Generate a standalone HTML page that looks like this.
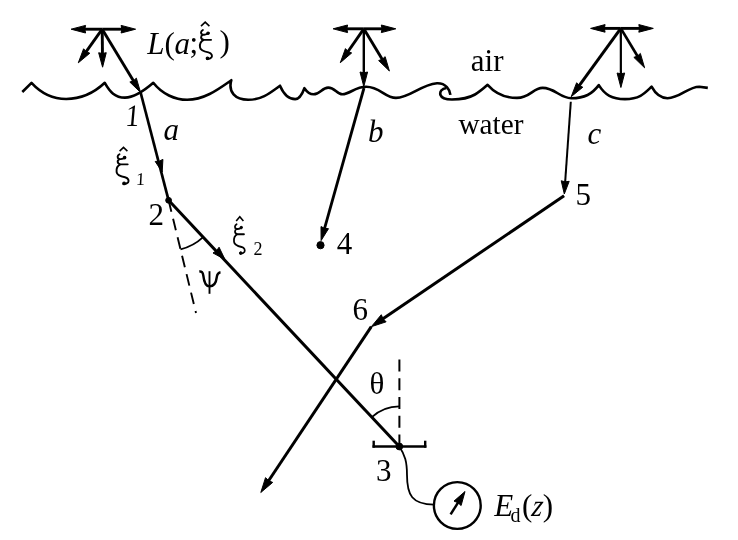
<!DOCTYPE html>
<html><head><meta charset="utf-8"><style>
html,body{margin:0;padding:0;background:#fff;}
body{width:738px;height:540px;position:relative;overflow:hidden;}
svg{position:absolute;left:0;top:0;will-change:transform;}
svg *{stroke:#000;fill:#000;}
svg [fill=none]{fill:none;}
svg path{stroke-linejoin:round;}
svg text{font-family:"Liberation Serif",serif;stroke:none;}
</style></head><body>
<svg width="738" height="540" viewBox="0 0 738 540">
<line x1="102.20" y1="29.20" x2="83.80" y2="29.20" stroke-width="2.9" />
<polygon points="71.10,29.20 85.60,25.40 84.80,29.20 85.60,33.00"/>
<line x1="102.20" y1="29.20" x2="122.90" y2="29.20" stroke-width="2.9" />
<polygon points="135.60,29.20 121.10,33.00 121.90,29.20 121.10,25.40"/>
<line x1="102.20" y1="29.20" x2="102.47" y2="54.50" stroke-width="2.9" />
<polygon points="102.60,67.20 98.65,52.74 102.46,53.50 106.25,52.66"/>
<line x1="102.20" y1="29.20" x2="85.66" y2="52.45" stroke-width="2.9" />
<polygon points="78.30,62.80 83.61,48.78 86.24,51.64 89.80,53.19"/>
<line x1="102.20" y1="29.20" x2="134.01" y2="81.64" stroke-width="2.9" />
<polygon points="140.60,92.50 129.83,82.07 133.49,80.79 136.33,78.13"/>
<line x1="140.60" y1="92.50" x2="168.60" y2="200.30" stroke-width="2.7" />
<polygon points="162.20,172.00 155.19,161.47 159.26,161.19 162.91,159.37"/>
<line x1="168.60" y1="200.30" x2="399.30" y2="446.50" stroke-width="3.0" />
<polygon points="225.00,259.50 212.99,252.98 216.58,250.67 219.07,247.19"/>
<line x1="168.6" y1="200.3" x2="196" y2="313" stroke-width="1.9" stroke-dasharray="11.8,7.2"/>
<circle cx="168.6" cy="200.3" r="2.9"/>
<path d="M180.53,249.37 A50.5,50.5 0 0,0 203.13,237.15" fill="none" stroke-width="1.8"/>
<line x1="363.80" y1="28.80" x2="345.80" y2="28.80" stroke-width="2.9" />
<polygon points="333.10,28.80 347.60,25.00 346.80,28.80 347.60,32.60"/>
<line x1="363.80" y1="28.80" x2="383.10" y2="28.80" stroke-width="2.9" />
<polygon points="395.80,28.80 381.30,32.60 382.10,28.80 381.30,25.00"/>
<line x1="363.80" y1="28.80" x2="347.54" y2="52.26" stroke-width="2.9" />
<polygon points="340.30,62.70 345.44,48.62 348.11,51.44 351.68,52.95"/>
<line x1="363.80" y1="28.80" x2="382.81" y2="60.14" stroke-width="2.9" />
<polygon points="389.40,71.00 378.63,60.57 382.29,59.29 385.13,56.63"/>
<line x1="363.80" y1="28.80" x2="363.80" y2="73.80" stroke-width="2.4" />
<polygon points="363.80,86.50 360.00,72.00 363.80,72.80 367.60,72.00"/>
<line x1="364.00" y1="88.00" x2="324.27" y2="229.34" stroke-width="2.8" />
<polygon points="321.10,240.60 321.00,226.55 324.54,228.37 328.51,228.66"/>
<circle cx="320.5" cy="245.2" r="3.6"/>
<line x1="620.80" y1="28.40" x2="603.30" y2="28.40" stroke-width="2.9" />
<polygon points="590.60,28.40 605.10,24.60 604.30,28.40 605.10,32.20"/>
<line x1="620.80" y1="28.40" x2="640.60" y2="28.40" stroke-width="2.9" />
<polygon points="653.30,28.40 638.80,32.20 639.60,28.40 638.80,24.60"/>
<line x1="620.80" y1="28.40" x2="620.88" y2="74.80" stroke-width="2.2" />
<polygon points="620.90,87.50 617.08,73.01 620.88,73.80 624.68,72.99"/>
<line x1="620.80" y1="28.40" x2="638.03" y2="56.93" stroke-width="2.7" />
<polygon points="644.60,67.80 633.85,57.35 637.52,56.07 640.36,53.42"/>
<line x1="620.80" y1="28.40" x2="578.66" y2="86.42" stroke-width="3.0" />
<polygon points="571.20,96.70 576.65,82.73 579.25,85.61 582.80,87.20"/>
<line x1="570.80" y1="101.70" x2="565.09" y2="182.83" stroke-width="2.0" />
<polygon points="564.30,194.00 561.22,180.75 565.16,181.83 569.20,181.31"/>
<line x1="564.10" y1="195.70" x2="382.22" y2="319.28" stroke-width="3.0" />
<polygon points="371.30,326.70 381.29,314.71 383.05,318.72 386.12,321.83"/>
<line x1="371.30" y1="326.70" x2="268.12" y2="481.52" stroke-width="3.0" />
<polygon points="260.80,492.50 265.54,477.63 268.68,480.68 272.70,482.40"/>
<line x1="372.50" y1="446.50" x2="426.40" y2="446.50" stroke-width="2.4" />
<line x1="373.70" y1="440.70" x2="373.70" y2="447.70" stroke-width="2.4" />
<line x1="425.20" y1="440.70" x2="425.20" y2="447.70" stroke-width="2.4" />
<line x1="399.4" y1="446.5" x2="399.4" y2="359.3" stroke-width="2" stroke-dasharray="12,6.75"/>
<circle cx="399.3" cy="446.5" r="3.4"/>
<path d="M371.81,417.17 A40.2,40.2 0 0,1 399.30,406.30" fill="none" stroke-width="1.8"/>
<path d="M399.3,446.5 C405,455 407,462 407,475 C407,495 412,504.6 434,504.6" fill="none" stroke-width="1.8"/>
<circle cx="457.3" cy="505.5" r="23.4" fill="none" stroke-width="2.4"/>
<line x1="450.60" y1="514.40" x2="458.51" y2="501.83" stroke-width="2.5" />
<polygon points="465.00,491.50 461.10,505.59 457.97,502.67 453.99,501.12"/>
<path d="M22.3,92 L31.5,82.8 C40,92 50,99 66.2,99 C82,99 95,92 104.8,82.8 C110,92 115,97.6 125,97.6 C134,97.6 145,90 153.3,82.8 C162,94 175,99.8 187.2,99.8 C205,99.8 220,88 231.3,80.2 C228,92 235,99.8 248.2,99.8 C262,99.8 270,93 280,85.7 C284,95 289,99.1 295.2,99.1 C300,99.1 303,92 304.4,88.2 C307,92 310,94.3 313.5,94.3 C320,94.3 322,87.6 328.2,87.6 C335,87.6 337,94.3 342.3,94.3 C350,94.3 355,86.7 366.1,86.7 C380,86.7 385,97.9 396,97.9 C410,97.9 420,85 437,83.3 C446,83 450,90 450.4,94.9 " fill="none" stroke-width="2.6"/>
<path d="M446.5,88 C441.5,88.5 439.5,92 440.5,95 C441.5,98 445,99.5 452,99.5 C460,99.5 468,98.5 475,94.5 C480,91.5 484,88 487.6,84.8 C494,92 503,97.9 517,97.9 C530,97.9 533,87.9 542.6,87.9 C555,87.9 560,98.2 571.2,98.2 C585,98.2 592,94 598.8,85.1 C605,95 612,99.1 625,99.1 C640,99.1 645,93 651.6,86.7 C655,93 660,98.2 667.5,98.2 C680,98.2 688,86.7 699.2,86.7 L707.8,87.9" fill="none" stroke-width="2.6"/>
<g><text x="147.3" y="53.5" font-size="31" font-style="italic">L</text>
<text x="164.6" y="53.5" font-size="31">(</text>
<text x="174.6" y="53.6" font-size="31" font-style="italic">a</text>
<text x="189.6" y="53.0" font-size="31">;</text>
<text x="219.4" y="52.4" font-size="31">)</text>
<text transform="translate(124.8,125.8) skewX(-5) scale(0.9,1.0)" x="0" y="0" font-size="31">1</text>
<text x="163.6" y="140.2" font-size="31" font-style="italic">a</text>
<text transform="translate(135.7,185.0) skewX(-3) scale(1.0,1.0)" x="0" y="0" font-size="18">1</text>
<text x="148.4" y="225.0" font-size="31">2</text>
<text x="253.4" y="254.7" font-size="18">2</text>
<text x="368.0" y="141.5" font-size="31" font-style="italic">b</text>
<text x="336.8" y="253.6" font-size="31">4</text>
<text x="470.8" y="70.9" font-size="31">air</text>
<text transform="translate(458.4,133.6) skewX(0) scale(0.945,0.96)" x="0" y="0" font-size="31">water</text>
<text x="587.6" y="143.5" font-size="31" font-style="italic">c</text>
<text x="575.4" y="204.8" font-size="31">5</text>
<text x="352.5" y="319.6" font-size="31">6</text>
<text x="369.6" y="393.8" font-size="31">θ</text>
<text x="376.0" y="480.9" font-size="31">3</text>
<text x="494.2" y="516.3" font-size="31" font-style="italic">E</text>
<text x="510.5" y="522.3" font-size="20">d</text>
<text x="521.9" y="515.9" font-size="31">(</text>
<text transform="translate(531.1,516.4) skewX(-9) scale(0.88,1.0)" x="0" y="0" font-size="31" font-style="italic">z</text>
<text x="542.8" y="515.9" font-size="31">)</text>
<g transform="translate(199.2,28.8) scale(1.024,0.978)"><path d="M3.6,1.2 C1.6,2.4 0.9,4.9 3.2,5.8 C5.3,6.5 7.6,5.6 9.2,4.2 M3.8,6 C1.2,7 0.9,10.6 4.6,11.3 L11.6,11.3 M4.6,11.3 C1.6,12.6 0.4,16 0.8,19 C1.2,22.2 4.2,23.2 9,24.1 C12.4,24.9 13,27.6 12,29.2 C11.1,30.4 9.4,30.9 7.6,30.9" fill="none" stroke-width="1.9" stroke-linecap="round"/><circle cx="8.6" cy="4.6" r="1.25"/><circle cx="8.1" cy="30.2" r="1.35"/></g>
<g transform="translate(115.8,153) scale(1.024,1.006)"><path d="M3.6,1.2 C1.6,2.4 0.9,4.9 3.2,5.8 C5.3,6.5 7.6,5.6 9.2,4.2 M3.8,6 C1.2,7 0.9,10.6 4.6,11.3 L11.6,11.3 M4.6,11.3 C1.6,12.6 0.4,16 0.8,19 C1.2,22.2 4.2,23.2 9,24.1 C12.4,24.9 13,27.6 12,29.2 C11.1,30.4 9.4,30.9 7.6,30.9" fill="none" stroke-width="1.9" stroke-linecap="round"/><circle cx="8.6" cy="4.6" r="1.25"/><circle cx="8.1" cy="30.2" r="1.35"/></g>
<g transform="translate(233.3,223) scale(0.921,0.994)"><path d="M3.6,1.2 C1.6,2.4 0.9,4.9 3.2,5.8 C5.3,6.5 7.6,5.6 9.2,4.2 M3.8,6 C1.2,7 0.9,10.6 4.6,11.3 L11.6,11.3 M4.6,11.3 C1.6,12.6 0.4,16 0.8,19 C1.2,22.2 4.2,23.2 9,24.1 C12.4,24.9 13,27.6 12,29.2 C11.1,30.4 9.4,30.9 7.6,30.9" fill="none" stroke-width="1.9" stroke-linecap="round"/><circle cx="8.6" cy="4.6" r="1.25"/><circle cx="8.1" cy="30.2" r="1.35"/></g>
<path d="M199.3,271.5 C201.6,271.2 202.9,272.4 203.3,275.5 C203.9,281 205.2,286.2 209.5,286.4 M220.5,272.2 C218.1,272.6 217.1,274 216.7,277.5 C216.1,283 214,286.2 209.5,286.4" fill="none" stroke-width="2.4"/>
<line x1="209.5" y1="271.2" x2="209.5" y2="293.8" stroke-width="1.9"/>
<polyline points="201.0,26.1 205.2,22.1 209.4,26.1" fill="none" stroke-width="1.6"/>
<polyline points="119.6,151.1 123.5,147.4 127.4,151.1" fill="none" stroke-width="1.6"/>
<polyline points="236.2,221.0 239.8,216.8 243.4,221.0" fill="none" stroke-width="1.6"/></g>
</svg>
</body></html>
